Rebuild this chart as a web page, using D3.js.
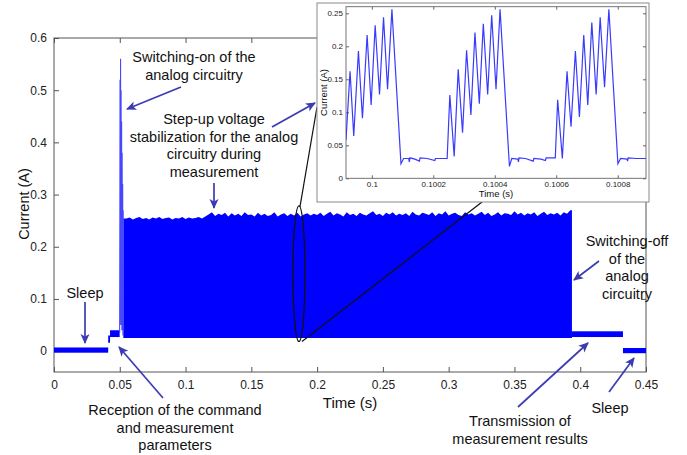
<!DOCTYPE html>
<html><head><meta charset="utf-8">
<script src="https://cdn.jsdelivr.net/npm/d3@7"></script>
<style>
body{margin:0;background:#fff;}
svg{display:block;font-family:"Liberation Sans",Arial,Helvetica,sans-serif;}
</style></head><body>
<svg id="c" width="687" height="455"></svg>
<script>
// ---------- data ----------
const xTicks = [0,0.05,0.1,0.15,0.2,0.25,0.3,0.35,0.4,0.45];
const xTickLabels = ["0","0.05","0.1","0.15","0.2","0.25","0.3","0.35","0.4","0.45"];
const yTicks = [0,0.1,0.2,0.3,0.4,0.5,0.6];
const yTickLabels = ["0","0.1","0.2","0.3","0.4","0.5","0.6"];

// flat phases (sleep, reception, transmission, sleep): time span and current band
const phaseStart = [0, 0.0412, 0.0426, 0.3937, 0.4325];
const phaseEnd   = [0.0412, 0.0426, 0.0499, 0.4325, 0.45];
const phaseLow   = [-0.003, 0.016, 0.027, 0.027, -0.004];
const phaseHigh  = [0.007, 0.030, 0.040, 0.038, 0.006];

// switching-on spike
const spikeTime    = [0.0499,0.0501,0.0502,0.0504,0.0506,0.0508,0.0510,0.0512,0.0514,0.0516,0.0518,0.0520,0.0522,0.0524,0.0526,0.0527];
const spikeCurrent = [0.035,0.30,0.52,0.06,0.56,0.05,0.50,0.05,0.44,0.04,0.38,0.04,0.32,0.03,0.27,0.03];

// measurement band (dense oscillation): start/end, bottom, ragged top sampled every 2.5 ms from 0.055 s
const bandStart = 0.0527, bandEnd = 0.3937, bandBottom = 0.025;
const bandTopStart = 0.055, bandTopStep = 0.0025;
const bandTop = [
 0.254,0.256,0.252,0.255,0.257,0.253,0.255,0.252,0.256,0.254,0.257,0.253,0.255,0.256,0.252,0.255,0.254,0.257,0.253,0.256,0.254,0.255,0.257,0.254,
 0.258,0.262,0.266,0.259,0.263,0.261,0.265,0.258,0.264,0.26,0.263,0.259,0.266,0.261,0.262,0.258,0.265,0.26,0.263,0.259,0.261,0.266,0.258,0.262,0.264,0.259,0.263,0.26,0.265,0.258,0.262,0.264,0.26,0.263,
 0.261,0.265,0.259,0.263,0.267,0.26,0.264,0.262,0.258,0.266,0.261,0.263,0.259,0.265,0.262,0.26,0.264,0.268,0.261,0.263,
 0.259,0.265,0.262,0.266,0.26,0.263,0.261,0.264,0.259,0.267,0.262,0.26,0.265,0.263,0.261,0.266,0.259,0.264,0.262,0.268,
 0.26,0.263,0.265,0.261,0.259,0.266,0.262,0.264,0.26,0.263,0.267,0.261,0.265,0.259,0.262,0.266,0.26,0.264,0.263,0.261,
 0.268,0.262,0.265,0.26,0.264,0.262,0.266,0.259,0.263,0.267,0.261,0.264,0.262,0.265,0.26,0.266,0.263,0.27];

// inset (zoom on ~0.1 s)
const insetXTicks = [0.1,0.1002,0.1004,0.1006,0.1008];
const insetXTickLabels = ["0.1","0.1002","0.1004","0.1006","0.1008"];
const insetYTicks = [0,0.05,0.1,0.15,0.2,0.25];
const insetYTickLabels = ["0","0.05","0.1","0.15","0.2","0.25"];
const insetTime = [0.099916,0.0999292,0.0999412,0.0999564,0.0999695,0.0999847,0.0999978,0.1000109,0.1000251,0.1000381,0.1000512,0.1000654,
 0.1000948,0.1001035,0.10012,0.100122,0.100124,0.10014,0.100155,0.100157,0.10018,0.100205,0.100207,0.1002451,
 0.1002538,0.100268,0.100281,0.1002952,0.1003083,0.1003224,0.1003355,0.1003497,0.1003627,0.1003769,0.10039,0.1004041,0.1004172,
 0.1004477,0.1004553,0.100475,0.100477,0.100479,0.1005,0.100525,0.100527,0.10055,0.100565,0.100567,0.1005969,
 0.1006046,0.1006198,0.1006351,0.1006481,0.1006623,0.1006754,0.1006895,0.1007026,0.1007157,0.1007298,0.1007429,0.1007571,0.1007712,
 0.1008006,0.1008093,0.10083,0.100832,0.100834,0.10086,0.100892];
const insetCurrent = [0.058,0.162,0.064,0.193,0.091,0.217,0.111,0.232,0.127,0.244,0.135,0.256,
 0.022,0.030,0.030,0.025,0.031,0.029,0.026,0.031,0.030,0.027,0.030,0.030,
 0.126,0.033,0.165,0.069,0.194,0.096,0.221,0.113,0.234,0.127,0.247,0.135,0.256,
 0.018,0.030,0.029,0.025,0.031,0.030,0.026,0.030,0.029,0.027,0.031,0.031,
 0.119,0.030,0.162,0.078,0.193,0.093,0.217,0.111,0.236,0.127,0.244,0.138,0.256,
 0.022,0.030,0.029,0.026,0.031,0.030,0.030];

// annotations
const noteLines = [
 ["Switching-on of the","analog circuitry"],
 ["Step-up voltage","stabilization for the analog","circuitry during","measurement"],
 ["Sleep"],
 ["Switching-off","of the","analog","circuitry"],
 ["Reception of the command","and measurement","parameters"],
 ["Transmission of","measurement results"],
 ["Sleep"]
];
const notePos = [[194,57],[214,119],[85,293],[627,241],[175,410],[520,421],[610,408]];
const arrows = [
 [[181,87],[127,109]],
 [[272,127],[315,103]],
 [[214,183],[214,208]],
 [[85,302],[85,343]],
 [[599,261],[574,280]],
 [[163,398],[119,347]],
 [[518,407],[588,343]],
 [[609,392],[634,358]]
];

// ---------- drawing ----------
const svg = d3.select("#c");
const BLUE = "#0000ff", ARROW = "#3b3bb3", AXIS = "#555";
const x = d3.scaleLinear().domain([0,0.45]).range([54,646]);
const y = d3.scaleLinear().domain([-0.04,0.6]).range([372,38]);

const defs = svg.append("defs");
defs.append("marker").attr("id","ah").attr("viewBox","0 0 10 10").attr("refX",9).attr("refY",5)
  .attr("markerWidth",10).attr("markerHeight",10).attr("markerUnits","userSpaceOnUse").attr("orient","auto")
  .append("path").attr("d","M0,0.5 L10,5 L0,9.5 L2.5,5 Z").attr("fill",ARROW);
defs.append("clipPath").attr("id","mainclip").append("rect")
  .attr("x",54).attr("y",38).attr("width",592).attr("height",334);

// axes
function styleAxis(g){
  g.select(".domain").remove();
  g.selectAll(".tick line").attr("stroke",AXIS);
  g.selectAll("text").attr("fill","#222").style("font-size","12px").style("font-family","Liberation Sans, Arial, sans-serif");
}
svg.append("g").attr("transform","translate(0,372)")
  .call(d3.axisBottom(x).tickValues(xTicks).tickFormat((d,i)=>xTickLabels[i]).tickSize(-5).tickPadding(8)).call(styleAxis);
svg.append("g").attr("transform","translate(0,38)")
  .call(d3.axisTop(x).tickValues(xTicks).tickFormat("").tickSize(-5)).call(styleAxis);
svg.append("g").attr("transform","translate(54,0)")
  .call(d3.axisLeft(y).tickValues(yTicks).tickFormat((d,i)=>yTickLabels[i]).tickSize(-5).tickPadding(7)).call(styleAxis);
svg.append("g").attr("transform","translate(646,0)")
  .call(d3.axisRight(y).tickValues(yTicks).tickFormat("").tickSize(-5)).call(styleAxis);
svg.append("rect").attr("x",54).attr("y",38).attr("width",592).attr("height",334)
  .attr("fill","none").attr("stroke",AXIS).attr("stroke-width",1);

svg.append("text").attr("transform","translate(24,204) rotate(-90)").attr("text-anchor","middle")
  .attr("dominant-baseline","central").style("font-size","14.5px").attr("fill","#111").text("Current (A)");
svg.append("text").attr("x",350).attr("y",408).attr("text-anchor","middle")
  .style("font-size","15px").attr("fill","#111").text("Time (s)");

const plot = svg.append("g").attr("clip-path","url(#mainclip)");
// flat phases
const phases = phaseStart.map((s,i)=>({s, e:phaseEnd[i], lo:phaseLow[i], hi:phaseHigh[i]}));
plot.selectAll("rect.phase").data(phases).join("rect").attr("class","phase")
  .attr("x",d=>x(d.s)).attr("width",d=>Math.max(1,x(d.e)-x(d.s)))
  .attr("y",d=>y(d.hi)).attr("height",d=>y(d.lo)-y(d.hi)).attr("fill",BLUE);

// measurement band
const bandPts = [{t:bandStart, v:bandTop[0]}]
  .concat(bandTop.map((v,i)=>({t:bandTopStart+i*bandTopStep, v})))
  .concat([{t:bandEnd, v:bandTop[bandTop.length-1]}]);
plot.append("path").datum(bandPts)
  .attr("d", d3.area().x(d=>x(d.t)).y0(y(bandBottom)).y1(d=>y(d.v)))
  .attr("fill",BLUE);

// spike
plot.append("path").datum(spikeTime.map((t,i)=>[t,spikeCurrent[i]]))
  .attr("d", d3.line().x(d=>x(d[0])).y(d=>y(d[1])))
  .attr("fill","none").attr("stroke","#4646ff").attr("stroke-width",1.1);

// zoom marker: ellipse and connector lines
const oval = {t:0.1862, c:0.1485, rt:0.0046, rc:0.130};
svg.append("ellipse").attr("cx",x(oval.t)).attr("cy",y(oval.c))
  .attr("rx",x(oval.t+oval.rt)-x(oval.t)).attr("ry",y(oval.c-oval.rc)-y(oval.c))
  .attr("fill","none").attr("stroke","#111").attr("stroke-width",1.3);
svg.append("line").attr("x1",x(oval.t)+1).attr("y1",y(oval.c+oval.rc)+1).attr("x2",317).attr("y2",107)
  .attr("stroke","#111").attr("stroke-width",1.2);
svg.append("line").attr("x1",x(oval.t)+3).attr("y1",y(oval.c-oval.rc)).attr("x2",482).attr("y2",202)
  .attr("stroke","#111").attr("stroke-width",1.2);

// ---------- inset ----------
const inset = svg.append("g");
inset.append("rect").attr("x",317).attr("y",3).attr("width",332).attr("height",199)
  .attr("fill","#fff").attr("stroke","#8a8a8a").attr("stroke-width",1);
const xi = d3.scaleLinear().domain([0.099916,0.100892]).range([346,646]);
const yi = d3.scaleLinear().domain([0,0.26]).range([178.3,6.7]);
defs.append("clipPath").attr("id","insetclip").append("rect")
  .attr("x",346).attr("y",6.7).attr("width",300).attr("height",171.6);
function styleInset(g){
  g.select(".domain").remove();
  g.selectAll(".tick line").attr("stroke","#666");
  g.selectAll("text").attr("fill","#222").style("font-size","8px").style("font-family","Liberation Sans, Arial, sans-serif");
}
inset.append("g").attr("transform","translate(0,178.3)")
  .call(d3.axisBottom(xi).tickValues(insetXTicks).tickFormat((d,i)=>insetXTickLabels[i]).tickSize(-3).tickPadding(3)).call(styleInset);
inset.append("g").attr("transform","translate(0,6.7)")
  .call(d3.axisTop(xi).tickValues(insetXTicks).tickFormat("").tickSize(-3)).call(styleInset);
inset.append("g").attr("transform","translate(346,0)")
  .call(d3.axisLeft(yi).tickValues(insetYTicks).tickFormat((d,i)=>insetYTickLabels[i]).tickSize(-3).tickPadding(3)).call(styleInset);
inset.append("g").attr("transform","translate(646,0)")
  .call(d3.axisRight(yi).tickValues(insetYTicks).tickFormat("").tickSize(-3)).call(styleInset);
inset.append("rect").attr("x",346).attr("y",6.7).attr("width",300).attr("height",171.6)
  .attr("fill","none").attr("stroke","#666").attr("stroke-width",0.9);
inset.append("path").datum(insetTime.map((t,i)=>[t,insetCurrent[i]]))
  .attr("clip-path","url(#insetclip)")
  .attr("d", d3.line().x(d=>xi(d[0])).y(d=>yi(d[1])))
  .attr("fill","none").attr("stroke","#3a3aff").attr("stroke-width",1.2);
inset.append("text").attr("transform","translate(323,92.5) rotate(-90)").attr("text-anchor","middle")
  .attr("dominant-baseline","central").style("font-size","9.5px").attr("fill","#111").text("Current (A)");
inset.append("text").attr("x",496).attr("y",196.5).attr("text-anchor","middle")
  .style("font-size","9.5px").attr("fill","#111").text("Time (s)");

// ---------- annotations ----------
svg.selectAll("line.arrow").data(arrows).join("line").attr("class","arrow")
  .attr("x1",d=>d[0][0]).attr("y1",d=>d[0][1]).attr("x2",d=>d[1][0]).attr("y2",d=>d[1][1])
  .attr("stroke",ARROW).attr("stroke-width",1.7).attr("marker-end","url(#ah)");
noteLines.forEach((lines,k)=>{
  const t = svg.append("text").attr("text-anchor","middle").style("font-size","14.5px").attr("fill","#111");
  lines.forEach((s,j)=>{
    t.append("tspan").attr("x",notePos[k][0]).attr("y",notePos[k][1]+5+j*17.7).text(s);
  });
});
</script>
</body></html>
